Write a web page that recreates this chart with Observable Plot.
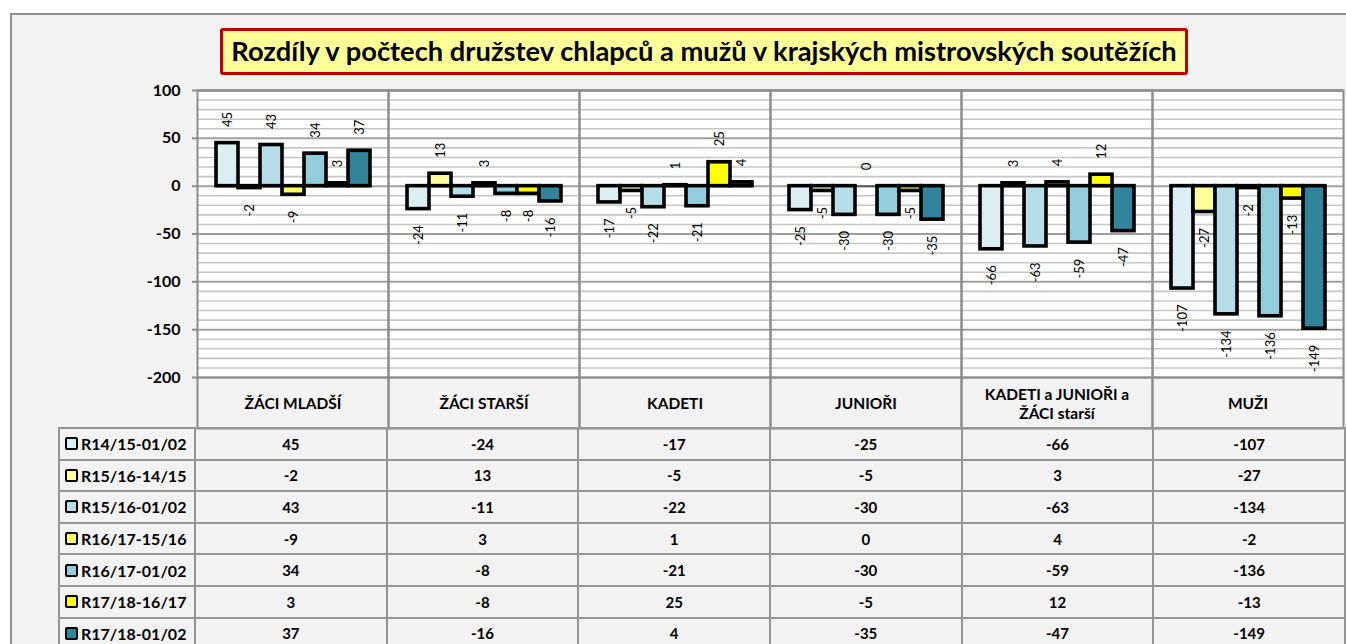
<!DOCTYPE html>
<html>
<head>
<meta charset="utf-8">
<script src="https://cdn.jsdelivr.net/npm/d3@7"></script>
<script src="https://cdn.jsdelivr.net/npm/@observablehq/plot@0.6"></script>
<style>
html, body { margin: 0; padding: 0; background: #ffffff; overflow: hidden; width: 1346px; height: 644px; font-family: Lato, "Noto Sans", sans-serif; color: #000; }
#frame { position: absolute; left: 10px; top: 13px; width: 1400px; height: 700px; background: #f2f2f2; border: 2px solid #8f8f8f; box-sizing: border-box; }
#title { position: absolute; left: 220px; top: 28px; width: 968px; height: 47px; box-sizing: border-box; border: 3px solid #c00000; border-radius: 3px; background: #ffff99; font-weight: bold; font-size: 27.3px; display: flex; align-items: center; justify-content: center; white-space: nowrap; padding-bottom: 2px; }
#chart { position: absolute; left: 0; top: 80px; }
.cell { position: absolute; box-sizing: border-box; border: 2px solid #959595; display: flex; align-items: center; justify-content: center; font-weight: bold; font-size: 15px; white-space: nowrap; }
.rowhead { justify-content: flex-start; padding-left: 5px; font-size: 16px; }
.swatch { width: 13px; height: 13px; box-sizing: border-box; border: 2.5px solid #000; border-radius: 2px; margin-right: 3px; flex: none; }
</style>
</head>
<body>
<div id="frame"></div>
<div id="title">Rozdíly v počtech družstev chlapců a mužů v krajských mistrovských soutěžích</div>
<div id="chart"></div>
<div id="table"></div>
<script>
// ---- data ----
const categories = ["ŽÁCI MLADŠÍ", "ŽÁCI STARŠÍ", "KADETI", "JUNIOŘI", "KADETI a JUNIOŘI a ŽÁCI starší", "MUŽI"];
const categoryLabels = ["ŽÁCI MLADŠÍ", "ŽÁCI STARŠÍ", "KADETI", "JUNIOŘI", "KADETI a JUNIOŘI a\nŽÁCI starší", "MUŽI"];
const seriesNames = ["R14/15-01/02", "R15/16-14/15", "R15/16-01/02", "R16/17-15/16", "R16/17-01/02", "R17/18-16/17", "R17/18-01/02"];
const r1415_0102 = [45, -24, -17, -25, -66, -107];
const r1516_1415 = [-2, 13, -5, -5, 3, -27];
const r1516_0102 = [43, -11, -22, -30, -63, -134];
const r1617_1516 = [-9, 3, 1, 0, 4, -2];
const r1617_0102 = [34, -8, -21, -30, -59, -136];
const r1718_1617 = [3, -8, 25, -5, 12, -13];
const r1718_0102 = [37, -16, 4, -35, -47, -149];
const seriesColors = ["#dbeef4", "#ffff99", "#b7dee8", "#ffff66", "#92cddc", "#ffff00", "#31849b"];
const yTicks = [100, 50, 0, -50, -100, -150, -200];

const seriesValues = [r1415_0102, r1516_1415, r1516_0102, r1617_1516, r1617_0102, r1718_1617, r1718_0102];
const rows = [];
seriesNames.forEach((s, si) => categories.forEach((c, ci) => rows.push({series: s, category: c, value: seriesValues[si][ci]})));

// ---- layout ----
const W = 1346, mL = 195, mR = 1, mT = 10, plotH = 287, headerH = 51;
const svgTop = 80;

const chart = Plot.plot({
  width: W,
  height: mT + plotH + headerH + 2,
  marginLeft: mL, marginRight: mR, marginTop: mT, marginBottom: headerH + 2,
  style: {background: "transparent", fontFamily: "Lato, 'Noto Sans', sans-serif", color: "black"},
  fx: {domain: categories, padding: 0, axis: null},
  x: {domain: seriesNames, paddingInner: 0, paddingOuter: 0.75, axis: null},
  y: {domain: [-200, 100], axis: null},
  color: {domain: seriesNames, range: seriesColors},
  marks: [
    Plot.frame({fill: "white", stroke: null}),
    Plot.ruleY(d3.range(-200, 101, 10).filter(v => v % 50 !== 0), {stroke: "#c6c6c6", strokeWidth: 1.6}),
    Plot.ruleY(yTicks, {stroke: "#a0a0a0", strokeWidth: 2}),
    Plot.ruleY([100, -200], {stroke: "#8c8c8c", strokeWidth: 2}),
    Plot.ruleY([0], {x1: () => seriesNames[0], x2: () => seriesNames[seriesNames.length - 1], stroke: "#595959", strokeWidth: 2}),
    Plot.barY(rows, {fx: "category", x: "series", y: "value", fill: "series", stroke: "black", strokeWidth: 3.6}),
    Plot.text(rows.filter(d => d.value >= 0), {fx: "category", x: "series", y: "value", text: d => String(d.value), rotate: -90, textAnchor: "start", dy: -16, fontSize: 13, fill: "black"}),
    Plot.text(rows.filter(d => d.value < 0), {fx: "category", x: "series", y: "value", text: d => String(d.value), rotate: -90, textAnchor: "end", dy: 16, fontSize: 13, fill: "black"}),
    Plot.frame({stroke: "#8c8c8c", strokeWidth: 2, insetBottom: -headerH}),
    Plot.text(categories, {fx: d => d, text: (d, i) => categoryLabels[i], frameAnchor: "bottom", dy: 26, lineAnchor: "middle", fontWeight: "bold", fontSize: 15.5, lineHeight: 1.18, fill: "black"}),
    Plot.axisY({ticks: yTicks, tickFormat: d => String(d), tickSize: 5, tickPadding: 12, fontSize: 16, fontWeight: "bold", stroke: "#8c8c8c", strokeWidth: 2, label: null})
  ]
});
document.getElementById("chart").appendChild(chart);

// ---- data table under the chart ----
const table = document.getElementById("table");
const tableTop = svgTop + mT + plotH + headerH; // 428
const rowH = 31.6;
const colW = (W - mL - mR) / categories.length;
const leftX = 59;
function cell(x0, y0, x1, y1, cls) {
  const d = document.createElement("div");
  d.className = "cell " + (cls || "");
  d.style.left = (x0 - 1) + "px";
  d.style.top = (y0 - 1) + "px";
  d.style.width = (x1 - x0 + 2) + "px";
  d.style.height = (y1 - y0 + 2) + "px";
  table.appendChild(d);
  return d;
}
seriesNames.forEach((s, si) => {
  const y0 = tableTop + si * rowH, y1 = y0 + rowH;
  const h = cell(leftX, y0, mL, y1, "rowhead");
  const sw = document.createElement("span");
  sw.className = "swatch";
  sw.style.background = seriesColors[si];
  h.appendChild(sw);
  h.appendChild(document.createTextNode(s));
  categories.forEach((c, ci) => {
    const x0 = mL + ci * colW;
    const d = cell(x0, y0, x0 + colW, y1);
    d.textContent = String(seriesValues[si][ci]);
  });
});
</script>
</body>
</html>
